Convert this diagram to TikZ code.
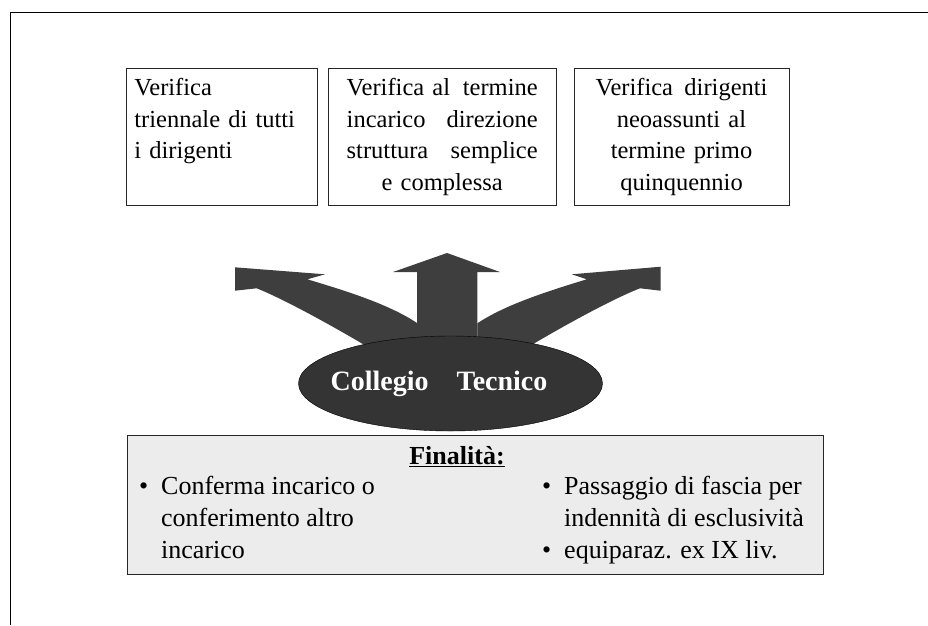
\documentclass[tikz,border=0pt]{standalone}
\usepackage{fontspec}
\setmainfont{Liberation Serif}
\usetikzlibrary{positioning,shapes.geometric}
\definecolor{arrowgray}{RGB}{62,62,62}
\definecolor{ovalgray}{RGB}{52,52,52}
\definecolor{fingray}{RGB}{236,236,236}
\tikzset{
	topbox/.style={draw=black!85, line width=0.8pt, inner sep=0pt, minimum height=137pt, font=\fontsize{24.5}{31.5}\selectfont},
	finitem/.style={anchor=north west, inner sep=0pt, align=left, font=\fontsize{26}{32}\selectfont},
}
\newcommand{\itembullet}{\llap{\textbullet\hspace{13pt}}}
\begin{document}
\begin{tikzpicture}[x=1pt,y=-1pt]
	\useasboundingbox (0,0) rectangle (928,625);
	\draw[line width=0.8pt] (10,625) -- (10,12) -- (928,12);
	\node[topbox, anchor=north west, minimum width=191pt, text width=175pt, align=left] (boxa) at (126,68) {\strut Verifica\\triennale di tutti\\i dirigenti\\\strut};
	\node[topbox, minimum width=228pt, text width=191pt, align=center, right=10pt of boxa] (boxb) {\strut\makebox[191pt][s]{Verifica al\hfill termine}\\\makebox[191pt][s]{incarico\hfill direzione}\\\makebox[191pt][s]{struttura\hfill semplice}\\e complessa\strut};
	\node[topbox, minimum width=215pt, text width=172pt, align=center, right=17pt of boxb] (boxc) {\strut\makebox[172pt][s]{Verifica\hfill dirigenti}\\neoassunti al\\termine primo\\quinquennio\strut};
	\fill[arrowgray] (373,350) .. controls (326,322) and (281,298) .. (256.7,288.3) -- (235,290.7) -- (235,267.3) -- (325,274.3) -- (307.3,279.3) .. controls (350,292) and (390,305) .. (417,323) -- (417,352) -- cycle;
	\fill[arrowgray] (523,350) .. controls (570,322) and (615,298) .. (640,288.3) -- (660.7,290.7) -- (660.7,266.7) -- (571.7,274.3) -- (586.7,279.3) .. controls (545,292) and (505,305) .. (477.3,323.3) -- (477.3,352) -- cycle;
	\fill[arrowgray] (417,355) -- (417,272) -- (393,272) -- (447,253) -- (500,272) -- (477.3,272) -- (477.3,355) -- cycle;
	\node[ellipse, draw=black, fill=ovalgray, minimum width=304pt, minimum height=95pt, inner sep=0pt] (collegio) at (450.5,383.5) {};
	\node[anchor=base, text=white, font=\fontsize{28}{32}\selectfont\bfseries, inner sep=0pt] (collegiolabel) at (439,390) {Collegio\hspace{28pt}Tecnico};
	\node[draw=black!85, line width=0.8pt, fill=fingray, anchor=north west, minimum width=696pt, minimum height=139pt, inner sep=0pt] (fin) at (127,435) {};
	\node[anchor=base, inner sep=0pt, font=\fontsize{26}{32}\selectfont\bfseries] (fintitle) at (457,464) {\underline{Finalità:}};
	\node[finitem] (finleft) at (161,471.6) {\strut\itembullet Conferma incarico o\\conferimento altro\\incarico};
	\node[finitem] (finright) at (564,471.6) {\strut\itembullet Passaggio di fascia per\\indennità di esclusività\\\itembullet equiparaz. ex IX liv.};
\end{tikzpicture}
\end{document}
